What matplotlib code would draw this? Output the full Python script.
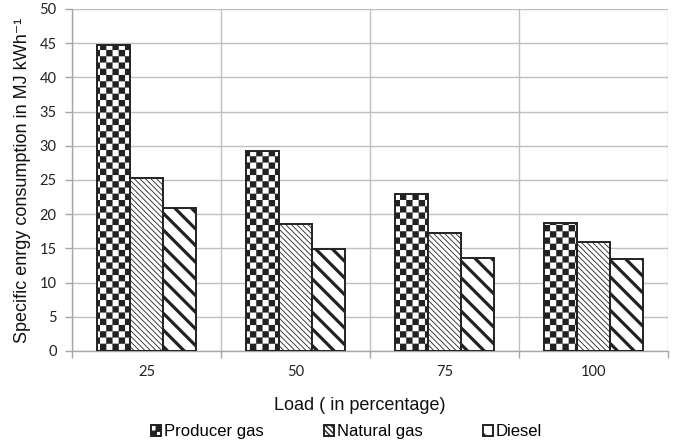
import numpy as np
import matplotlib
matplotlib.use("Agg")
import matplotlib.pyplot as plt
import matplotlib.hatch as mhatch
from matplotlib.path import Path

# ---- data ----
loads = ["25", "50", "75", "100"]
series_names = ["Producer gas", "Natural gas", "Diesel"]
producer_gas = [44.8, 29.2, 22.9, 18.7]
natural_gas = [25.3, 18.6, 17.3, 15.9]
diesel = [20.9, 14.9, 13.6, 13.5]
y_ticks = [0, 5, 10, 15, 20, 25, 30, 35, 40, 45, 50]


# ---- custom checkerboard hatch ('c') ----
class CheckerHatch(mhatch.HatchPatternBase):
    def __init__(self, hatch, density):
        self.n = 16
        self.on = 'c' in hatch
        self.num_vertices = (self.n * self.n // 2) * 5 if self.on else 0

    def set_vertices_and_codes(self, vertices, codes):
        s = 1.0 / self.n
        k = 0
        for i in range(self.n):
            for j in range(self.n):
                if (i + j) % 2 == 0:
                    x0, y0 = i * s, j * s
                    vertices[k:k + 5] = [(x0, y0), (x0 + s, y0), (x0 + s, y0 + s),
                                         (x0, y0 + s), (x0, y0)]
                    codes[k:k + 5] = [Path.MOVETO, Path.LINETO, Path.LINETO,
                                      Path.LINETO, Path.CLOSEPOLY]
                    k += 5


mhatch._hatch_types.append(CheckerHatch)
mhatch._validate_hatch_pattern = lambda h: None

fig = plt.figure(figsize=(6.74, 4.47), dpi=100)
ax = fig.add_axes([0.1068, 0.2148, 0.8843, 0.7651])

x = np.arange(len(loads))
w = 0.222
styles = [
    dict(hatch='c', hlw=0.1),
    dict(hatch='\\' * 6, hlw=0.6),
    dict(hatch='\\\\', hlw=2.3),
]
all_vals = [producer_gas, natural_gas, diesel]
handles = []
for i, (vals, name, st) in enumerate(zip(all_vals, series_names, styles)):
    with plt.rc_context({'hatch.linewidth': st['hlw'], 'hatch.color': '#111111'}):
        bars = ax.bar(x + (i - 1) * w, vals, w, color='white', edgecolor='#222222',
                      linewidth=1.4, hatch=st['hatch'], label=name, zorder=3)
    for b in bars:
        if hasattr(b, 'set_hatch_linewidth'):
            b.set_hatch_linewidth(st['hlw'])
    handles.append(bars)

ax.set_xlim(-0.5, len(loads) - 0.5)
ax.set_ylim(0, 50)
ax.set_yticks(y_ticks)
ax.set_xticks(x)
ax.set_xticklabels(loads)
ax.set_xticks(np.arange(-0.5, len(loads)), minor=True)

for s in ['top', 'right']:
    ax.spines[s].set_visible(False)
for s in ['left', 'bottom']:
    ax.spines[s].set_color('#a6a6a6')
    ax.spines[s].set_linewidth(1.0)

ax.grid(axis='y', which='major', color='#bfbfbf', linewidth=1.0, zorder=0)
ax.grid(axis='x', which='minor', color='#bfbfbf', linewidth=1.0, zorder=0)
ax.set_axisbelow(True)

ax.tick_params(axis='x', which='major', length=0, pad=10, labelsize=10.5, labelcolor='#222222')
ax.tick_params(axis='x', which='minor', length=5, color='#a6a6a6', width=1.0)
ax.tick_params(axis='y', which='major', length=5, color='#a6a6a6', width=1.0,
               labelsize=10.5, labelcolor='#222222', pad=6)
for lab in ax.get_xticklabels() + ax.get_yticklabels():
    lab.set_family('Lato')

ax.set_xlabel('Load ( in percentage)', fontsize=13, family='Liberation Sans', color='#111111')
ax.xaxis.set_label_coords(0.483, -0.135)
ax.set_ylabel('Specific enrgy consumption in MJ kWh\u207b\u00b9', fontsize=13,
              family=['Liberation Sans', 'DejaVu Sans'], labelpad=6, color='#111111')

leg = fig.legend(handles, series_names, loc='center', bbox_to_anchor=(0.514, 0.034),
                 ncol=3, frameon=False, prop={'family': 'Liberation Sans', 'size': 12},
                 handlelength=0.6, handleheight=0.6, handletextpad=0.2,
                 columnspacing=3.6)

fig.savefig('out.png', dpi=100)
